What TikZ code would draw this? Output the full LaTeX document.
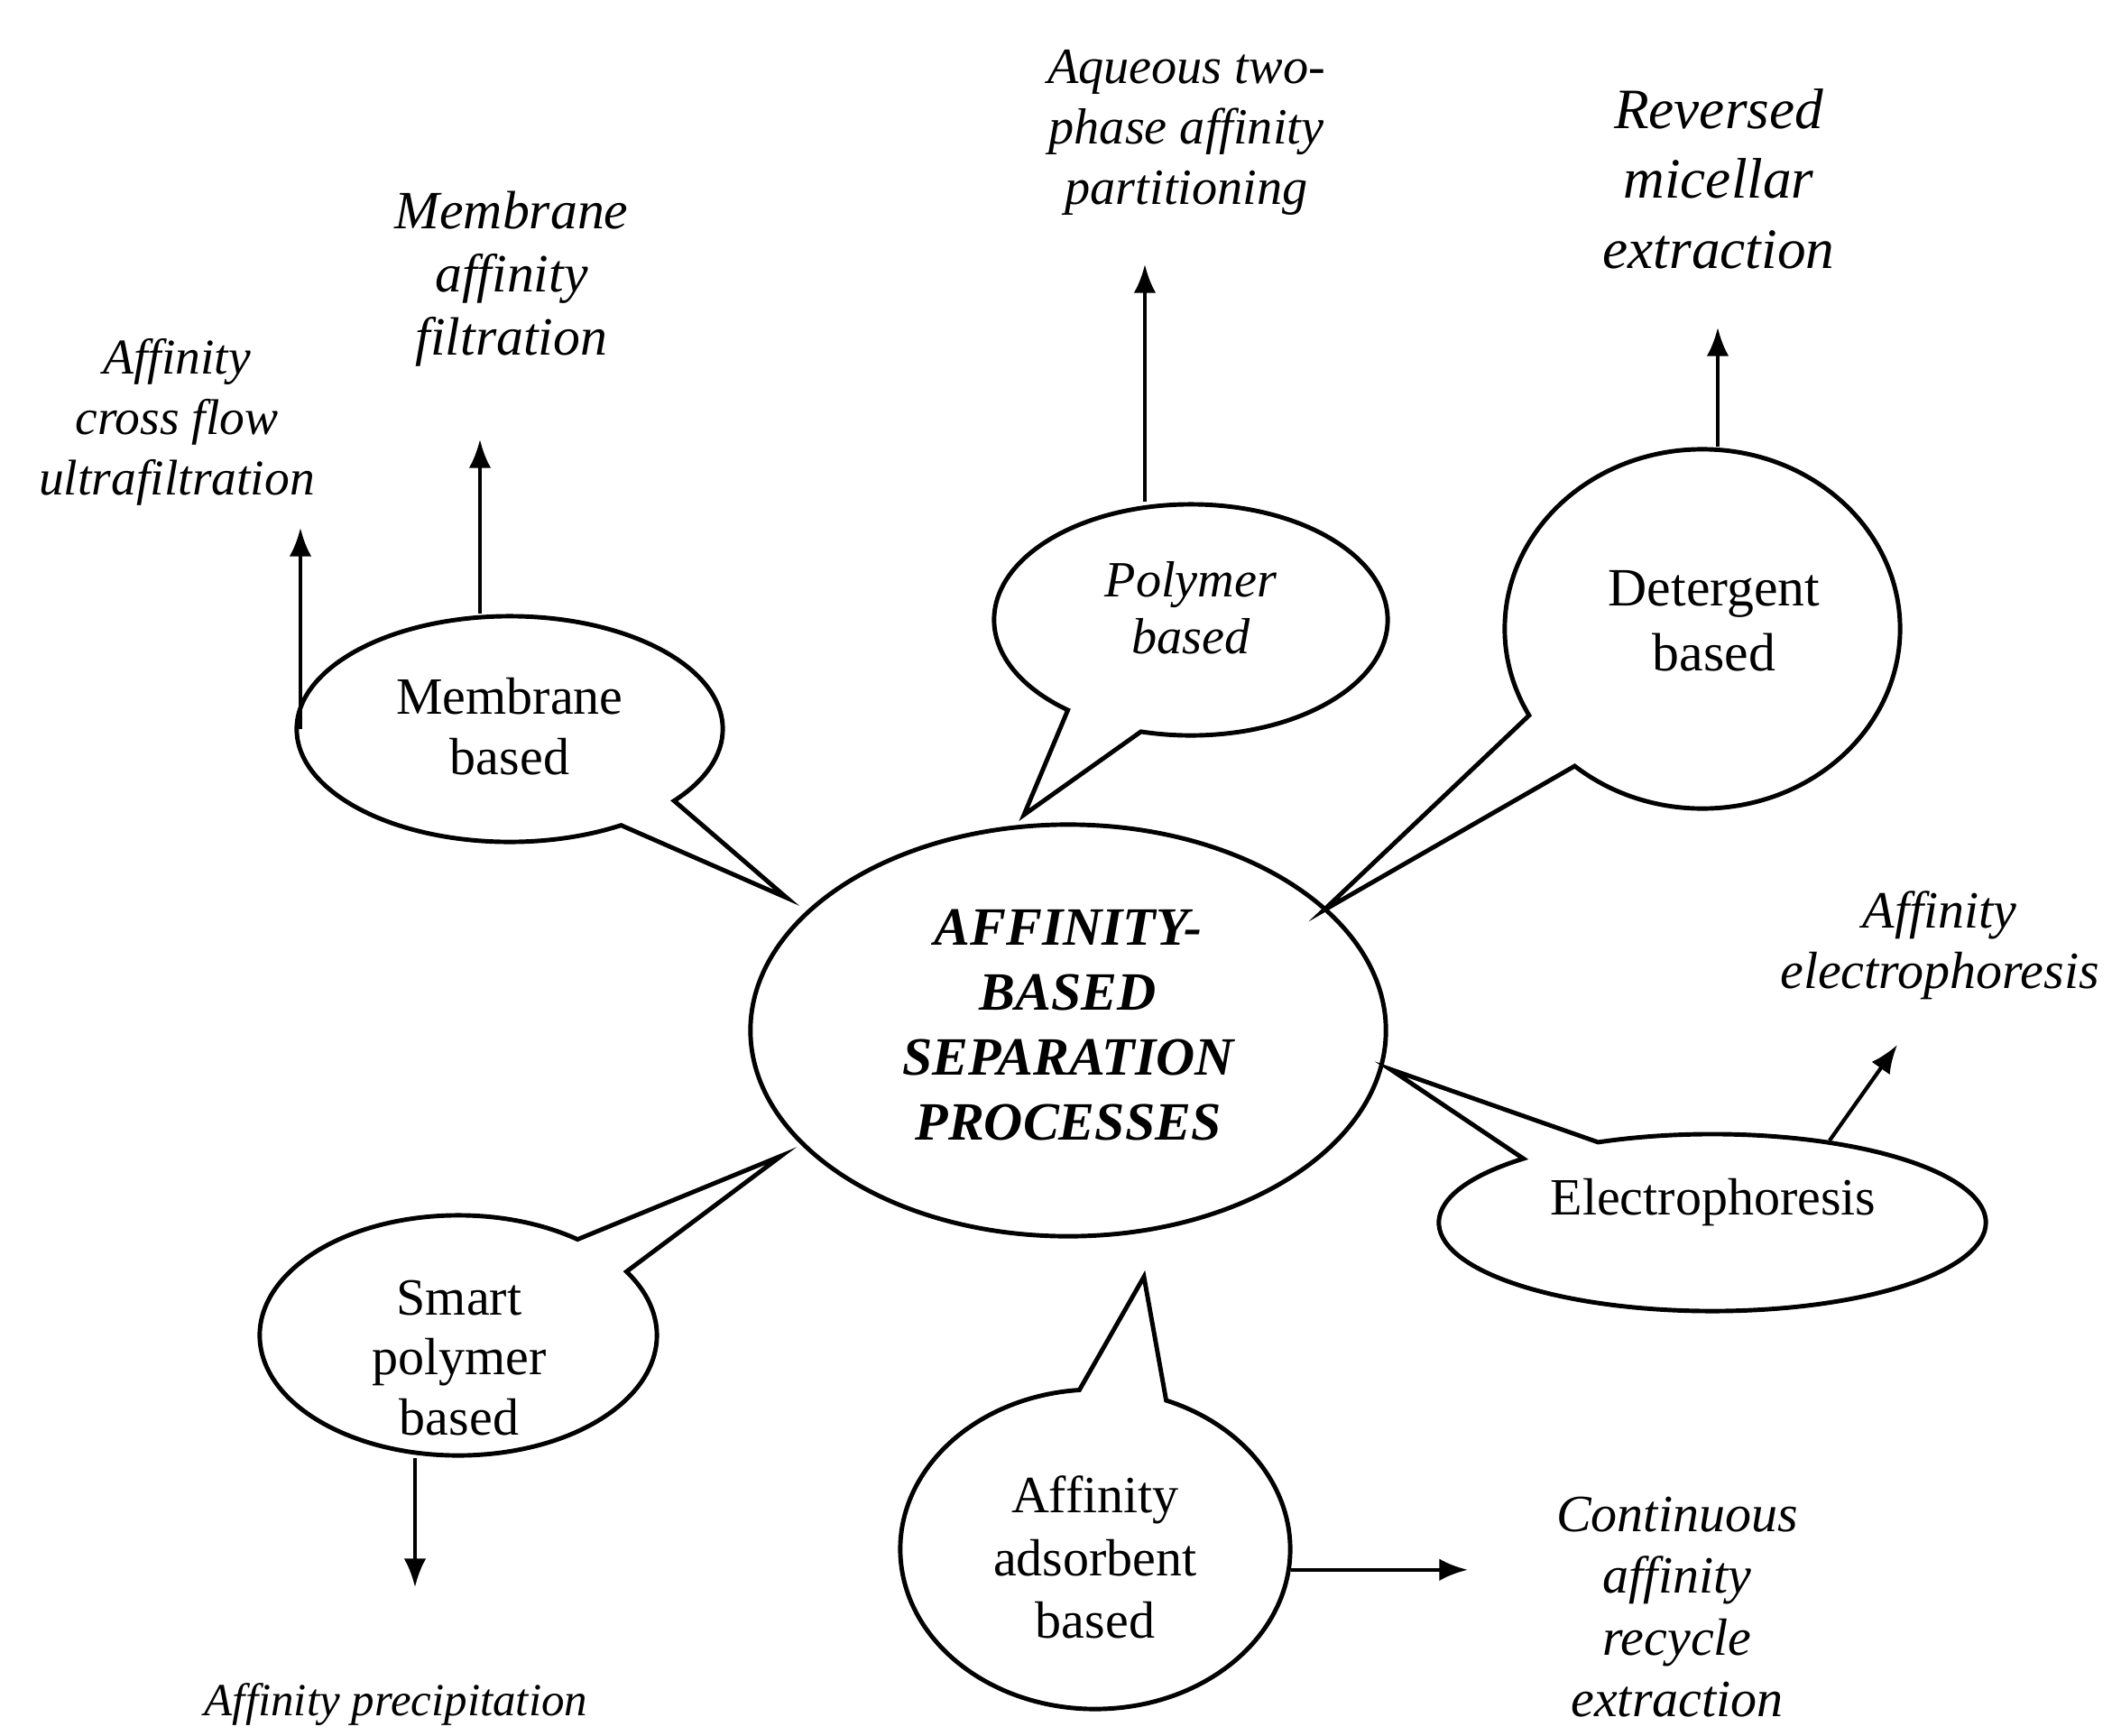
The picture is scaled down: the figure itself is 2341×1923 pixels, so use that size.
\documentclass[tikz,border=0pt]{standalone}
\usepackage{fontspec}
\setmainfont{Liberation Serif}
\usetikzlibrary{shapes.callouts,shapes.geometric,arrows.meta}
\begin{document}
\begin{tikzpicture}[x=0.01cm,y=-0.01cm,
  bubble/.style={ellipse callout, draw, line width=1.4pt, inner sep=0pt},
  arr/.style={-{Latex[length=9pt,width=7pt]}, line width=1.2pt},
  btext/.style={align=center, inner sep=0pt}]
\useasboundingbox (0,0) rectangle (2341,1923);

% central ellipse
\node[ellipse, draw, line width=1.4pt, minimum width=7.04cm, minimum height=4.56cm, inner sep=0pt] (c) at (1184,1142) {};
\node[btext, font=\fontsize{17}{20.5}\selectfont\bfseries\itshape] (ct) at (1184,1136) {AFFINITY-\\BASED\\SEPARATION\\PROCESSES};

% pointer tips
\coordinate (p1) at (872,995);
\coordinate (p2) at (1135,903);
\coordinate (p3) at (1467,1009);
\coordinate (p4) at (1541,1185);
\coordinate (p5) at (866,1281);
\coordinate (p6) at (1268,1415);

% bubbles
\node[bubble, minimum width=4.72cm, minimum height=2.5cm, callout absolute pointer={(p1)}, callout pointer arc=19] (mb) at (565,808) {};
\node[btext, font=\fontsize{16.5}{19}\selectfont] (mbt) at (565,805) {Membrane\\based};

\node[bubble, minimum width=4.36cm, minimum height=2.56cm, callout absolute pointer={(p2)}, callout pointer arc=24] (pb) at (1320,687) {};
\node[btext, font=\fontsize{16}{18}\selectfont\itshape] (pbt) at (1320,674) {Polymer\\based};

\node[bubble, minimum width=4.38cm, minimum height=3.98cm, callout absolute pointer={(p3)}, callout pointer arc=21] (db) at (1887,697) {};
\node[btext, font=\fontsize{17}{20.5}\selectfont] (dbt) at (1900,688) {Detergent\\based};

\node[bubble, minimum width=6.06cm, minimum height=1.96cm, callout absolute pointer={(p4)}, callout pointer arc=19] (eb) at (1898,1355) {};
\node[btext, font=\fontsize{16.5}{19}\selectfont] (ebt) at (1899,1333) {Electrophoresis};

\node[bubble, minimum width=4.40cm, minimum height=2.66cm, callout absolute pointer={(p5)}, callout pointer arc=21] (sb) at (508,1480) {};
\node[btext, font=\fontsize{16.5}{19}\selectfont] (sbt) at (509,1505) {Smart\\polymer\\based};

\node[bubble, minimum width=4.32cm, minimum height=3.54cm, callout absolute pointer={(p6)}, callout pointer arc=26] (ab) at (1214,1717) {};
\node[btext, font=\fontsize{16.5}{19.7}\selectfont] (abt) at (1214,1726) {Affinity\\adsorbent\\based};

% arrow ends
\coordinate (t1) at (532,487);
\coordinate (t2) at (333,585);
\coordinate (t3) at (1269,293);
\coordinate (t4) at (1904,363);
\coordinate (t5) at (2103,1158);
\coordinate (t6) at (460,1759);
\coordinate (t7) at (1627,1739);

\draw[arr] (mb.north -| t1) -- (t1);
\draw[arr] (t2 |- mb.west) -- (t2);
\draw[arr] (pb.north -| t3) -- (t3);
\draw[arr] (db.north -| t4) -- (t4);
\draw[arr] (eb.35) -- (t5);
\draw[arr] (sb.south -| t6) -- (t6);
\draw[arr] (ab.-6) -- (ab.-6 -| t7);

% labels
\node[btext, font=\fontsize{16}{19}\selectfont\itshape] (l1) at (1315,147) {Aqueous two-\\phase affinity\\partitioning};
\node[btext, font=\fontsize{18}{22}\selectfont\itshape] (l2) at (1905,198) {Reversed\\micellar\\extraction};
\node[btext, font=\fontsize{17}{20}\selectfont\itshape] (l3) at (567,309) {Membrane\\affinity\\filtration};
\node[btext, font=\fontsize{15.8}{19}\selectfont\itshape] (l4) at (196,468) {Affinity\\cross flow\\ultrafiltration};
\node[btext, font=\fontsize{16.5}{19}\selectfont\itshape] (l5) at (2150,1048) {Affinity\\electrophoresis};
\node[btext, font=\fontsize{16.5}{19.4}\selectfont\itshape] (l6) at (1859,1781) {Continuous\\affinity\\recycle\\extraction};
\node[btext, font=\fontsize{14.5}{17}\selectfont\itshape] (l7) at (439,1889) {Affinity precipitation};
\end{tikzpicture}
\end{document}
